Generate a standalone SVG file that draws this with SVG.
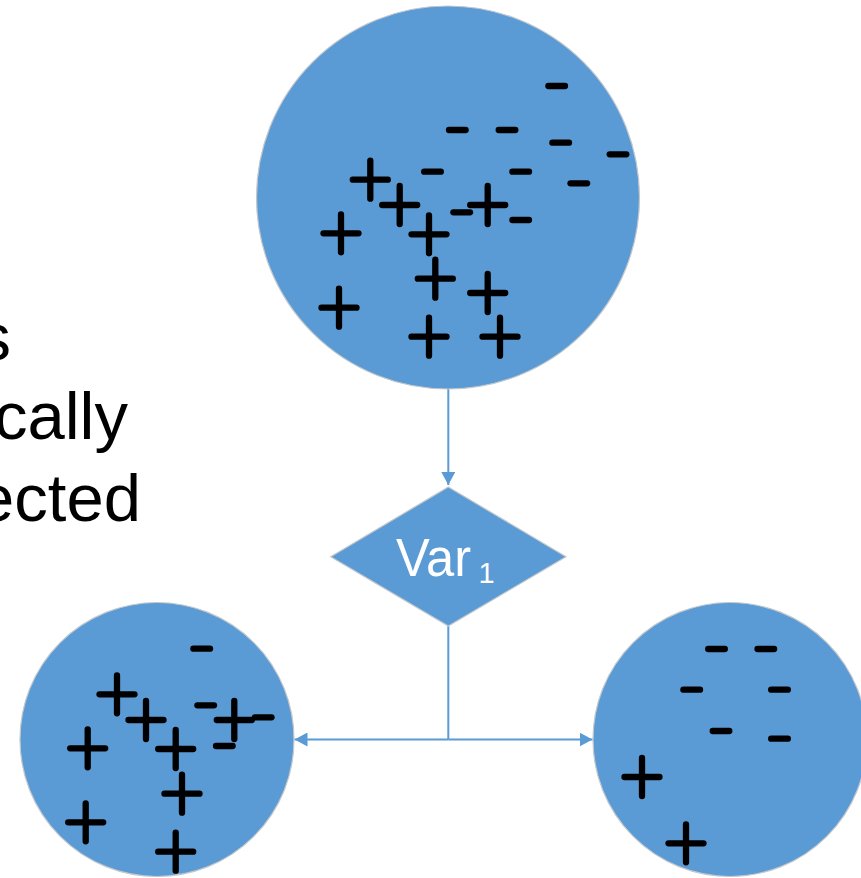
<svg xmlns="http://www.w3.org/2000/svg" width="861" height="878" viewBox="0 0 861 878">
<style>
.node{fill:#5B9BD5;stroke:#C4C8CC;stroke-width:1.2}
.mk{fill:none;stroke:#000;stroke-width:6.3;stroke-linecap:round}
.conn{fill:none;stroke:#5B9BD5;stroke-width:2}
.side{font-family:"Liberation Sans",Arial,sans-serif;font-size:67px;fill:#000;text-anchor:end}
.lbl{font-family:"Liberation Sans",Arial,sans-serif;fill:#fff}
</style>
<defs>
<path id="p" d="M-17.5 0H17.5M0 -19V19"/>
<path id="m" d="M-8.3 0H8.3"/>
<marker id="arr" markerUnits="userSpaceOnUse" markerWidth="14" markerHeight="14" refX="13" refY="7" orient="auto">
<path d="M0 0L13 7L0 14Z" fill="#5B9BD5"/>
</marker>
</defs>
<rect width="861" height="878" fill="#fff"/>
<g id="side-text">
<text class="side" x="11" y="360">s</text>
<text class="side" x="128" y="439">cally</text>
<text class="side" x="141" y="521">ected</text>
</g>
<g id="connectors">
<path class="conn" d="M448.3 389V485" marker-end="url(#arr)"/>
<path class="conn" d="M448.3 626V739.5"/>
<path class="conn" d="M448.3 739.5H294.5" marker-end="url(#arr)"/>
<path class="conn" d="M448.3 739.5H592.5" marker-end="url(#arr)"/>
</g>
<g id="root">
<circle class="node" cx="448" cy="197.5" r="191.5"/>
<g class="mk">
<use href="#m" x="556.7" y="86"/>
<use href="#m" x="457.3" y="130"/>
<use href="#m" x="507" y="130"/>
<use href="#m" x="560.7" y="142.7"/>
<use href="#m" x="618" y="154.3"/>
<use href="#m" x="432.5" y="171.7"/>
<use href="#m" x="520.7" y="171.7"/>
<use href="#m" x="578.8" y="183.3"/>
<use href="#m" x="461.7" y="212.3"/>
<use href="#m" x="520.7" y="220"/>
<use href="#p" x="370.3" y="179.7"/>
<use href="#p" x="399.7" y="205"/>
<use href="#p" x="487.7" y="205"/>
<use href="#p" x="341" y="233.3"/>
<use href="#p" x="429" y="234.3"/>
<use href="#p" x="435.3" y="278.7"/>
<use href="#p" x="487.7" y="293"/>
<use href="#p" x="339" y="307.7"/>
<use href="#p" x="429" y="336.7"/>
<use href="#p" x="500" y="336.7"/>
</g>
</g>
<g id="decision">
<polygon class="node" points="448.3,487 566,556.7 448.3,626 330.7,556.7"/>
<text class="lbl" x="396" y="576" font-size="54" textLength="75" lengthAdjust="spacingAndGlyphs">Var</text>
<text class="lbl" x="478.5" y="583" font-size="29">1</text>
</g>
<g id="left">
<circle class="node" cx="157" cy="739.5" r="137"/>
<g class="mk">
<use href="#m" x="201.7" y="648.7"/>
<use href="#m" x="205.7" y="705.3"/>
<use href="#p" x="117" y="694.3"/>
<use href="#p" x="146" y="720"/>
<use href="#p" x="234.3" y="720"/>
<use href="#m" x="263.2" y="717.3"/>
<use href="#m" x="224.3" y="746"/>
<use href="#p" x="87.7" y="748.3"/>
<use href="#p" x="175.7" y="749"/>
<use href="#p" x="182" y="793.7"/>
<use href="#p" x="85.7" y="822.3"/>
<use href="#p" x="175.7" y="851.7"/>
</g>
</g>
<g id="right">
<circle class="node" cx="730" cy="739.5" r="137"/>
<g class="mk">
<use href="#m" x="716.5" y="649"/>
<use href="#m" x="765.8" y="649"/>
<use href="#m" x="691.7" y="689.7"/>
<use href="#m" x="779.5" y="689.7"/>
<use href="#m" x="721" y="731"/>
<use href="#m" x="779.5" y="738.7"/>
<use href="#p" x="642" y="777"/>
<use href="#p" x="686" y="843.3"/>
</g>
</g>
</svg>
